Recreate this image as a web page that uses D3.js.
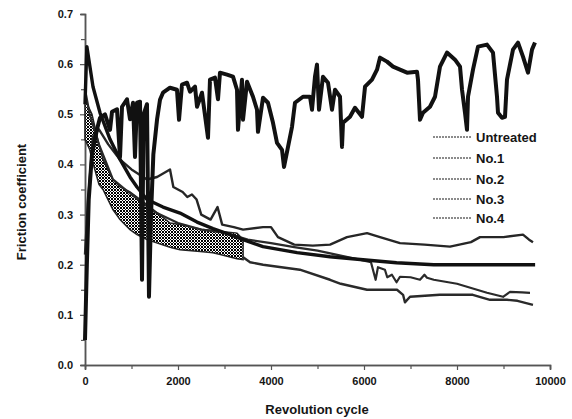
<!DOCTYPE html>
<html>
  <head>
    <title>Friction coefficient vs revolution cycle</title>
    <script src="https://d3js.org/d3.v7.min.js"></script>
    <style>
      body { margin: 0; background: #fff; }
      text { font-family: "Liberation Sans", Arial, sans-serif; font-weight: bold; fill: #151515; }
    </style>
  </head>
  <body>
    <svg width="572" height="419"></svg>
    <script>
      // series names (legend order)
      const seriesNames = ["Untreated", "No.1", "No.2", "No.3", "No.4"];

      // tick labels
      const xTicks = [0, 2000, 4000, 6000, 8000, 10000];
      const yTicks = [0.0, 0.1, 0.2, 0.3, 0.4, 0.5, 0.6, 0.7];

      // [cycle, friction]
      const untreated = [
        [0,0.05],[40,0.2],[80,0.33],[150,0.42],[258,0.47],[323,0.493],[430,0.5],[538,0.469],
        [581,0.505],[688,0.51],[753,0.415],[796,0.515],[903,0.53],[968,0.49],[1032,0.523],
        [1075,0.415],[1118,0.523],[1183,0.525],[1226,0.17],[1260,0.5],[1333,0.52],[1376,0.136],
        [1420,0.3],[1470,0.42],[1550,0.49],[1613,0.529],[1677,0.543],[1828,0.553],[1978,0.549],
        [2022,0.489],[2086,0.559],[2194,0.563],[2258,0.545],[2366,0.555],[2409,0.515],[2516,0.543],
        [2645,0.453],[2688,0.569],[2796,0.573],[2860,0.53],[2903,0.583],[3054,0.579],[3183,0.575],
        [3269,0.549],[3290,0.469],[3376,0.569],[3398,0.489],[3484,0.565],[3613,0.535],[3699,0.509],
        [3720,0.465],[3828,0.533],[3935,0.523],[4043,0.483],[4129,0.443],[4237,0.429],[4280,0.395],
        [4366,0.435],[4452,0.475],[4516,0.523],[4688,0.535],[4839,0.535],[4882,0.509],[4946,0.575],
        [4989,0.599],[5032,0.509],[5118,0.575],[5226,0.563],[5312,0.509],[5376,0.549],[5484,0.535],
        [5527,0.435],[5548,0.483],[5699,0.495],[5806,0.513],[5957,0.495],[6022,0.555],[6172,0.569],
        [6280,0.589],[6344,0.613],[6495,0.605],[6624,0.595],[6774,0.589],[6925,0.583],[7140,0.585],
        [7161,0.569],[7204,0.489],[7269,0.503],[7419,0.515],[7527,0.535],[7634,0.595],[7785,0.623],
        [7957,0.609],[8065,0.595],[8108,0.549],[8172,0.503],[8215,0.469],[8237,0.535],[8344,0.589],
        [8452,0.635],[8645,0.639],[8774,0.623],[8860,0.535],[8882,0.503],[8968,0.493],[9032,0.495],
        [9075,0.569],[9204,0.629],[9312,0.643],[9419,0.615],[9527,0.583],[9613,0.629],[9677,0.643]
      ];
      const no1 = [
        [0,0.22],[60,0.32],[170,0.455],[300,0.47],[500,0.44],[750,0.41],[1000,0.39],[1333,0.37],
        [1550,0.375],[1828,0.39],[1900,0.355],[2100,0.345],[2200,0.335],[2300,0.34],[2400,0.33],
        [2500,0.3],[2700,0.29],[2850,0.315],[2950,0.28],[3200,0.275],[3400,0.27],[3828,0.275],
        [4000,0.275],[4150,0.255],[4500,0.24],[4900,0.238],[5270,0.24],[5634,0.255],[6065,0.263],
        [6344,0.255],[6774,0.243],[7300,0.24],[7850,0.236],[8300,0.245],[8495,0.255],[9000,0.255],
        [9419,0.26],[9550,0.25],[9634,0.245]
      ];
      const no2 = [
        [0,0.52],[40,0.635],[172,0.555],[323,0.503],[538,0.45],[753,0.41],[968,0.375],[1118,0.355],
        [1333,0.33],[1677,0.315],[2043,0.303],[2409,0.285],[2753,0.272],[3118,0.26],[3400,0.25],
        [3828,0.236],[4560,0.224],[5270,0.216],[5980,0.21],[6700,0.204],[7500,0.2],[8500,0.2],[9680,0.2]
      ];
      const no3 = [
        [0,0.55],[100,0.5],[300,0.44],[600,0.37],[1000,0.34],[1500,0.305],[2000,0.283],[2500,0.27],
        [3000,0.264],[3500,0.25],[4000,0.243],[4500,0.235],[5000,0.228],[5500,0.218],[5900,0.21],
        [6150,0.205],[6250,0.17],[6300,0.195],[6450,0.19],[6500,0.175],[6600,0.18],[6700,0.165],
        [6774,0.176],[7000,0.175],[7204,0.17],[7300,0.18],[7355,0.174],[7500,0.17],[8000,0.162],
        [8215,0.156],[8645,0.144],[8990,0.136],[9140,0.146],[9400,0.145],[9570,0.144]
      ];
      // No.4: heavy oscillation band at the start (upper / lower envelopes), then a single line
      const bandCycles = [0, 100, 150, 300, 387, 600, 753, 968, 1118, 1333, 1828, 2043, 2538, 2753, 3269, 3400];
      const bandUpper  = [0.53, 0.51, 0.5, 0.44, 0.41, 0.37, 0.355, 0.345, 0.335, 0.32, 0.283, 0.28, 0.27, 0.268, 0.263, 0.25];
      const bandLower  = [0.45, 0.43, 0.41, 0.36, 0.35, 0.31, 0.29, 0.27, 0.26, 0.25, 0.235, 0.23, 0.226, 0.224, 0.212, 0.21];
      const no4 = [
        [3400,0.215],[3550,0.205],[3830,0.2],[4620,0.19],[5270,0.17],[5500,0.162],[6065,0.15],
        [6710,0.15],[6840,0.14],[6880,0.125],[6990,0.136],[7630,0.14],[8340,0.14],[8560,0.134],
        [8710,0.13],[9075,0.13],[9300,0.128],[9634,0.12]
      ];

      const svg = d3.select("svg");
      const plotLeft = 85, plotRight = 550, plotTop = 14, plotBottom = 365;

      const x = d3.scaleLinear().domain([0, 10000]).range([plotLeft, plotRight]);
      const y = d3.scaleLinear().domain([0, 0.7]).range([plotBottom, plotTop]);

      // crosshatch pattern for the oscillating band
      const defs = svg.append("defs");
      const pat = defs.append("pattern")
        .attr("id", "hatch").attr("width", 3).attr("height", 3)
        .attr("patternUnits", "userSpaceOnUse");
      pat.append("rect").attr("width", 3).attr("height", 3).attr("fill", "#fff");
      pat.append("rect").attr("width", 2).attr("height", 2).attr("fill", "#000");
      pat.append("rect").attr("x", 2).attr("y", 2).attr("width", 1).attr("height", 1).attr("fill", "#000");

      // axes
      svg.append("g")
        .attr("transform", `translate(0,${plotBottom})`)
        .call(d3.axisBottom(x).tickValues(xTicks).tickSize(5).tickPadding(7).tickFormat(d3.format("d")));
      svg.append("g")
        .attr("transform", `translate(0,${plotBottom})`)
        .call(d3.axisBottom(x).tickValues(d3.range(1000, 10000, 2000)).tickSize(4).tickFormat(""));
      svg.append("g")
        .attr("transform", `translate(${plotLeft},0)`)
        .call(d3.axisLeft(y).tickValues(yTicks).tickSize(5).tickPadding(7).tickFormat(d3.format(".1f")));
      svg.append("g")
        .attr("transform", `translate(${plotLeft},0)`)
        .call(d3.axisLeft(y).tickValues([0.05, 0.15, 0.25, 0.35, 0.45, 0.55, 0.65]).tickSize(4).tickFormat(""));

      svg.selectAll(".domain").attr("stroke", "#555").attr("stroke-width", 1.5);
      svg.selectAll(".tick line").attr("stroke", "#555").attr("stroke-width", 1.2);
      svg.selectAll(".tick text").attr("font-size", 11).attr("fill", "#151515");

      // band
      const area = d3.area()
        .x((d, i) => x(bandCycles[i]))
        .y0((d, i) => y(bandLower[i]))
        .y1((d, i) => y(bandUpper[i]));
      svg.append("path")
        .datum(bandCycles)
        .attr("d", area)
        .attr("fill", "url(#hatch)")
        .attr("stroke", "#222")
        .attr("stroke-width", 1.5);

      const line = d3.line().x(d => x(d[0])).y(d => y(d[1]));

      const series = [
        { data: no4, color: "#2a2a2a", width: 2.4 },
        { data: no3, color: "#2a2a2a", width: 2.2 },
        { data: no1, color: "#262626", width: 2.4 },
        { data: no2, color: "#111", width: 3.4 },
        { data: untreated, color: "#111", width: 4 }
      ];
      svg.append("g").selectAll("path")
        .data(series)
        .join("path")
          .attr("d", d => line(d.data))
          .attr("fill", "none")
          .attr("stroke", d => d.color)
          .attr("stroke-width", d => d.width)
          .attr("stroke-linejoin", "round");

      // legend
      const legend = svg.append("g");
      const rowY = [137, 158, 179, 199, 218];
      seriesNames.forEach((name, i) => {
        legend.append("line")
          .attr("x1", 433).attr("x2", 472)
          .attr("y1", rowY[i]).attr("y2", rowY[i])
          .attr("stroke", "#666").attr("stroke-width", 1.4)
          .attr("stroke-dasharray", "2,1");
        legend.append("text")
          .attr("x", 476).attr("y", rowY[i])
          .attr("dy", "0.35em")
          .attr("font-size", 13)
          .text(name);
      });

      // axis titles
      svg.append("text")
        .attr("x", 317).attr("y", 414)
        .attr("text-anchor", "middle")
        .attr("font-size", 13)
        .text("Revolution cycle");
      svg.append("text")
        .attr("transform", "translate(26,202) rotate(-90)")
        .attr("text-anchor", "middle")
        .attr("font-size", 13)
        .text("Friction coefficient");
    </script>
  </body>
</html>
